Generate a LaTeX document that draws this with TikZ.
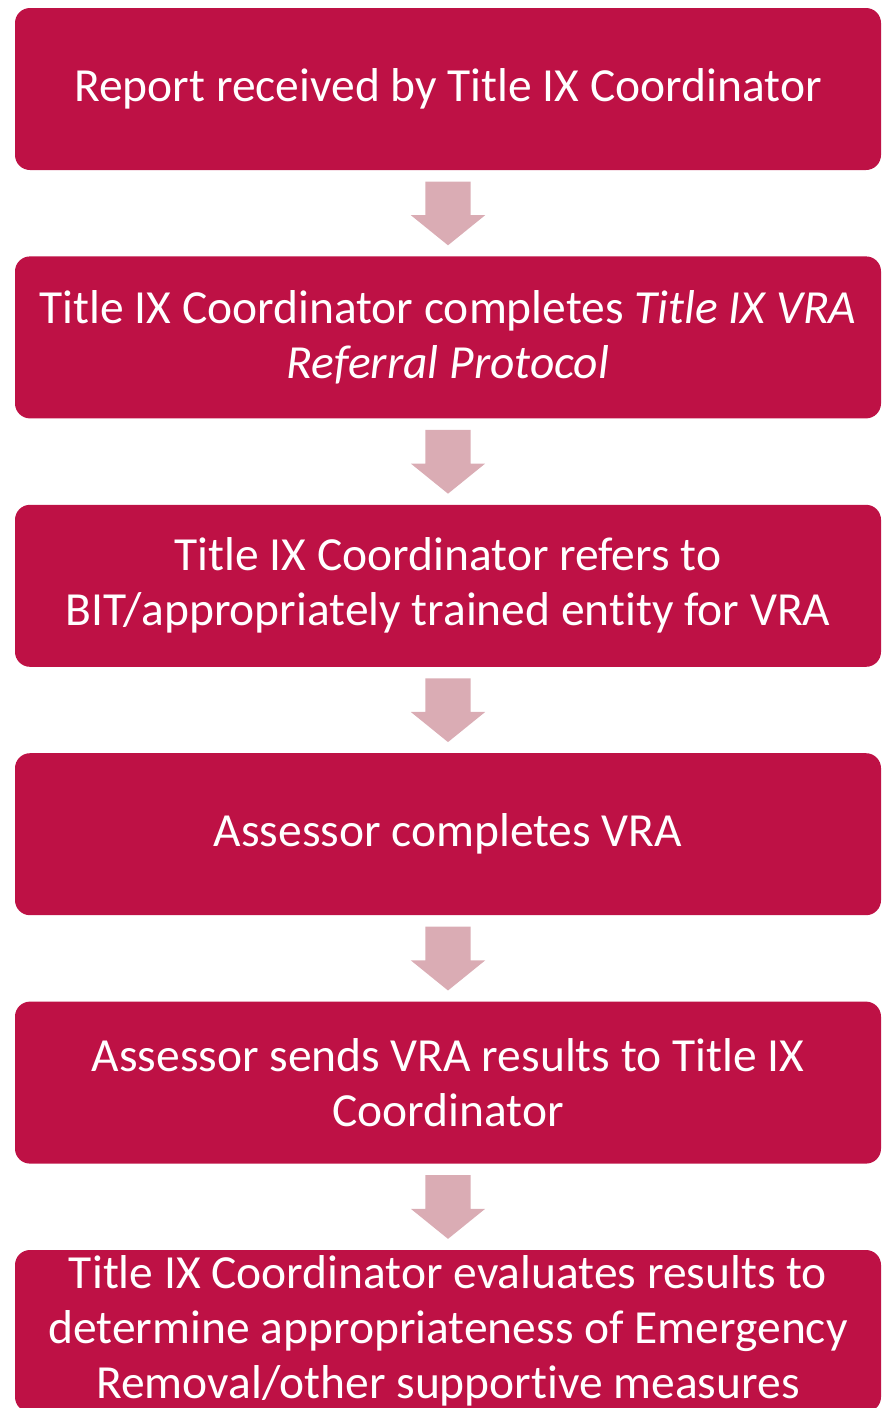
\documentclass[tikz,border=0pt]{standalone}
\usepackage{fontspec}
\setmainfont{Carlito}[Ligatures=CommonOff]
\usetikzlibrary{positioning,shapes.arrows,calc}
\definecolor{boxred}{HTML}{BE1145}
\definecolor{arrowpink}{HTML}{DAACB4}
\begin{document}
\begin{tikzpicture}
[ stage/.style={rectangle, rounded corners=15pt, fill=boxred, text=white, align=center, inner sep=0pt, minimum width=866pt, minimum height=162pt, font=\fontsize{47.5}{55}\selectfont},
 down/.style={single arrow, shape border rotate=270, fill=arrowpink, inner sep=22.5pt, minimum height=62pt, single arrow head extend=14.5pt, single arrow tip angle=102, yshift=9pt},
 node distance=86pt]
\useasboundingbox (0,0) rectangle (882pt,-1408pt);
\node[stage] (A) at (448pt,-89pt) {Report received by Title IX Coordinator};
\node[stage] (B) [below=of A] {Title IX Coordinator completes \textit{Title IX VRA}\\ \textit{Referral Protocol}};
\node[stage] (C) [below=of B] {Title IX Coordinator refers to\\ BIT/appropriately trained entity for VRA};
\node[stage] (D) [below=of C] {Assessor completes VRA};
\node[stage] (E) [below=of D] {Assessor sends VRA results to Title IX\\ Coordinator};
\node[stage] (F) [below=of E] {Title IX Coordinator evaluates results to\\ determine appropriateness of Emergency\\ Removal/other supportive measures};
% block arrows between the stages
\node[down] (AB) at ($(A.south)!0.5!(B.north)$) {};
\node[down] (BC) at ($(B.south)!0.5!(C.north)$) {};
\node[down] (CD) at ($(C.south)!0.5!(D.north)$) {};
\node[down] (DE) at ($(D.south)!0.5!(E.north)$) {};
\node[down] (EF) at ($(E.south)!0.5!(F.north)$) {};
\end{tikzpicture}
\end{document}
